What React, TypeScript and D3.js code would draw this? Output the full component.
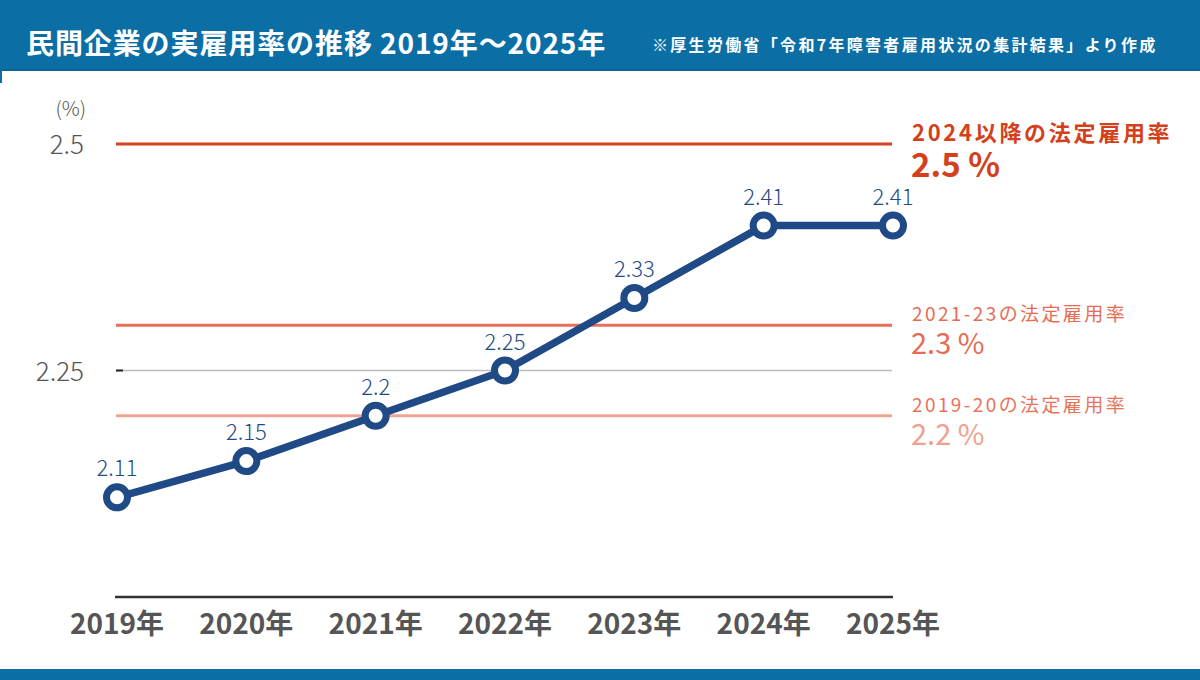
import React, { useEffect } from 'react'
import * as d3 from 'd3'

const years = ['2019年', '2020年', '2021年', '2022年', '2023年', '2024年', '2025年']
const rates = [2.11, 2.15, 2.2, 2.25, 2.33, 2.41, 2.41]
const yTicks = [2.25, 2.5]

const legalRates = [
  { value: 2.5, label: '2024以降の法定雇用率', valueText: '2.5 %' },
  { value: 2.3, label: '2021-23の法定雇用率', valueText: '2.3 %' },
  { value: 2.2, label: '2019-20の法定雇用率', valueText: '2.2 %' },
]

const title = '民間企業の実雇用率の推移 2019年〜2025年'
const source = '※厚生労働省「令和7年障害者雇用状況の集計結果」より作成'

const W = 1200
const H = 680
const FONT = '"Noto Sans CJK JP", "Noto Sans", sans-serif'
const NAVY = '#1f4a86'
const HEADER = '#0b6fa6'

const legalStyles = [
  { line: '#d9411e', label: '#d4401c', value: '#d4401c', labelSize: 22, labelWeight: 700, valueSize: 33, valueWeight: 700, ls: 2.7 },
  { line: '#e8705a', label: '#e76b52', value: '#e76b52', labelSize: 19, labelWeight: 400, valueSize: 29, valueWeight: 400, ls: 2.4 },
  { line: '#f2a493', label: '#e8735a', value: '#f0a08e', labelSize: 19, labelWeight: 400, valueSize: 29, valueWeight: 400, ls: 2.4 },
]

export default function App() {
  useEffect(() => {
    document.body.style.margin = '0'
  }, [])

  const x = d3.scalePoint<string>().domain(years).range([117, 893])
  const y = d3.scaleLinear().domain([2.0, 2.5]).range([597, 144])

  const line = d3
    .line<number>()
    .x((_, i) => x(years[i]) as number)
    .y((d) => y(d))

  const lineEnd = 892

  return (
    <svg width={W} height={H} style={{ display: 'block', fontFamily: FONT }}>
      <rect x={0} y={0} width={W} height={H} fill="#fff" />
      {/* header */}
      <rect x={0} y={0} width={W} height={71} fill={HEADER} />
      <rect x={0} y={69} width={W} height={2} fill="#0a6396" />
      <rect x={0} y={71} width={2} height={12} fill={HEADER} />
      <text x={26} y={54} fill="#fff" fontSize={28} fontWeight={700} letterSpacing={0.9}>
        {title}
      </text>
      <text x={652} y={51} fill="#fff" fontSize={16} fontWeight={700} letterSpacing={2.3}>
        {source}
      </text>
      {/* footer */}
      <rect x={0} y={669} width={W} height={11} fill={HEADER} />

      {/* y axis labels */}
      <text x={86} y={116} fill="#555" fontSize={20} textAnchor="end" fontWeight={300}>
        (%)
      </text>
      {yTicks.map((t) => (
        <text key={t} x={84} y={y(t) + 10} fill="#555" fontSize={26} textAnchor="end" fontWeight={300}>
          {t}
        </text>
      ))}

      {/* gridline at 2.25 */}
      <line x1={116} x2={lineEnd} y1={y(2.25)} y2={y(2.25)} stroke="#bdbdbd" strokeWidth={1.5} />
      <line x1={116} x2={123} y1={y(2.25)} y2={y(2.25)} stroke="#222" strokeWidth={2} />

      {/* legal rate lines */}
      {legalRates.map((r, i) => {
        const s = legalStyles[i]
        const yy = y(r.value)
        const labelY = i === 0 ? yy - 3 : yy - 4
        return (
          <g key={r.label}>
            <line x1={116} x2={lineEnd} y1={yy} y2={yy} stroke={s.line} strokeWidth={3} />
            <text x={912} y={labelY} fill={s.label} fontSize={s.labelSize} fontWeight={s.labelWeight} letterSpacing={s.ls}>
              {r.label}
            </text>
            <text x={911} y={labelY + (i === 0 ? 36 : 33)} fill={s.value} fontSize={s.valueSize} fontWeight={s.valueWeight}>
              {r.valueText}
            </text>
          </g>
        )
      })}

      {/* x axis */}
      <line x1={115} x2={893} y1={597} y2={597} stroke="#333" strokeWidth={2.5} />
      {years.map((yr) => (
        <text key={yr} x={x(yr)} y={634} fill="#555" fontSize={28} fontWeight={700} textAnchor="middle">
          {yr}
        </text>
      ))}

      {/* series */}
      <path d={line(rates) || ''} fill="none" stroke={NAVY} strokeWidth={7.5} strokeLinejoin="round" />
      {rates.map((v, i) => (
        <g key={i}>
          <circle cx={x(years[i])} cy={y(v)} r={10.5} fill="#fff" stroke={NAVY} strokeWidth={7} />
          <text x={x(years[i])} y={y(v) - 21} fill={NAVY} fontSize={22} textAnchor="middle" fontWeight={300}>
            {v}
          </text>
        </g>
      ))}
    </svg>
  )
}
